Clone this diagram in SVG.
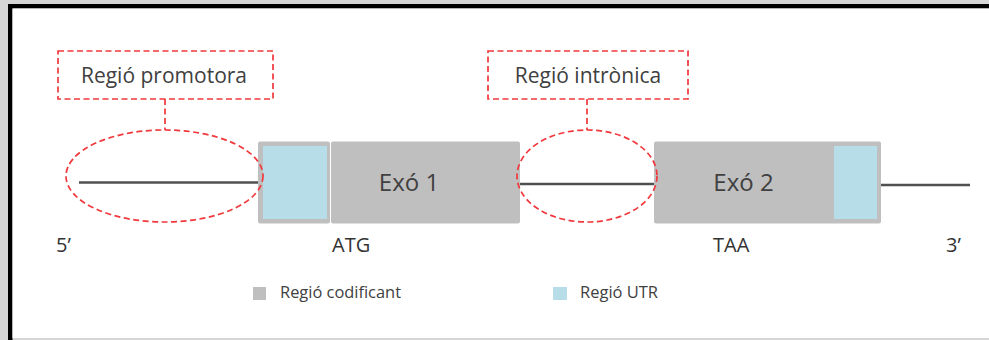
<svg xmlns="http://www.w3.org/2000/svg" width="989" height="340" viewBox="0 0 989 340">
<style>
.frame-bg{fill:#d6d6d6}
.red{fill:none;stroke:#f0383d;stroke-width:1.7;stroke-dasharray:6 3.5}
.dna{stroke:#505050;stroke-width:2.6;fill:none}
.cod{fill:#bfbfbf}
.utr{fill:#b7dde8}
.t{font-family:"Open Sans","Liberation Sans",sans-serif;fill:#404040}
.lbl{font-size:21px;text-anchor:middle}
.exo{font-size:24px;text-anchor:middle}
.pos{font-size:20px;fill:#333}
.leg{font-size:16px}
</style>
<rect class="frame-bg" x="0" y="0" width="989" height="340"/>
<rect x="8" y="4" width="981" height="4.5" fill="#000"/>
<rect x="8" y="4" width="4.5" height="336" fill="#000"/>
<rect x="12.5" y="8.5" width="976.5" height="329.5" fill="#fff"/>

<g id="connectors">
<line class="dna" x1="79" y1="182.5" x2="258" y2="182.5"/>
<line class="dna" x1="520" y1="184" x2="654" y2="184"/>
<line class="dna" x1="881" y1="185" x2="970" y2="185"/>
<line class="red" x1="165" y1="99" x2="165" y2="130"/>
<line class="red" x1="587" y1="99" x2="587" y2="130"/>
</g>

<g id="exon1">
<rect class="cod" x="258" y="141.5" width="72" height="82" rx="2"/>
<rect class="utr" x="263" y="146" width="64" height="73"/>
<rect class="cod" x="331" y="141.5" width="189" height="82" rx="2"/>
<text class="t exo" x="409" y="191">Exó 1</text>
</g>

<g id="exon2">
<rect class="cod" x="654" y="141.5" width="227" height="82" rx="2"/>
<rect class="utr" x="834" y="146" width="43" height="73"/>
<text class="t exo" x="743.5" y="191">Exó 2</text>
</g>

<g id="promoter-region">
<ellipse class="red" cx="164.5" cy="176" rx="98.5" ry="46"/>
</g>
<g id="intron-region">
<ellipse class="red" cx="587" cy="176" rx="70" ry="46"/>
</g>

<g id="promoter-label">
<rect class="red" x="58" y="51" width="215" height="48"/>
<text class="t lbl" x="164" y="83">Regió promotora</text>
</g>
<g id="intron-label">
<rect class="red" x="488" y="51" width="200" height="48"/>
<text class="t lbl" x="588" y="83">Regió intrònica</text>
</g>

<g id="positions">
<text class="t pos" x="56" y="252">5’</text>
<text class="t pos" x="332" y="252">ATG</text>
<text class="t pos" x="713" y="252">TAA</text>
<text class="t pos" x="946" y="252">3’</text>
</g>

<g id="legend">
<rect class="cod" x="253" y="287" width="13" height="13"/>
<text class="t leg" x="280" y="298" textLength="121" lengthAdjust="spacingAndGlyphs">Regió codificant</text>
<rect class="utr" x="553" y="287" width="14" height="13"/>
<text class="t leg" x="580" y="298" textLength="78" lengthAdjust="spacingAndGlyphs">Regió UTR</text>
</g>
</svg>
